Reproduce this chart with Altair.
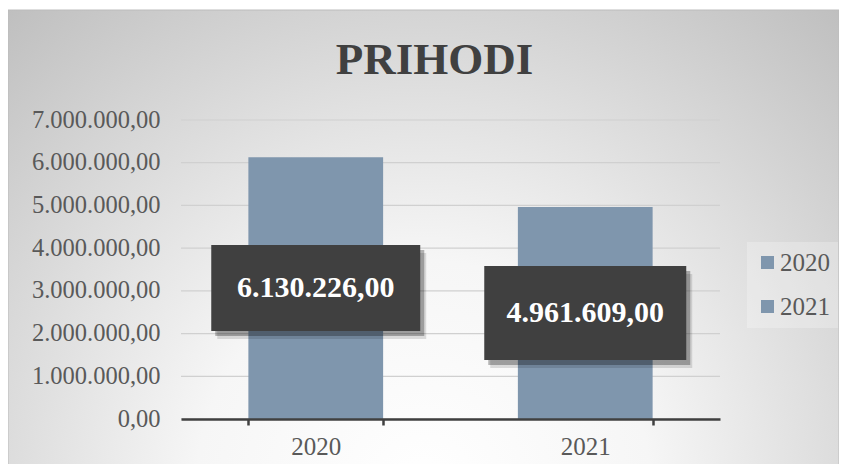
import altair as alt
import pandas as pd

# ---- data ----
years = ["2020", "2021"]
values = [6130226.00, 4961609.00]
y_ticks = [0, 1000000, 2000000, 3000000, 4000000, 5000000, 6000000, 7000000]

df = pd.DataFrame({"year": years, "value": values})
df_ticks = pd.DataFrame({"t": y_ticks})

BAR = "#7f96ad"
SERIF = "Liberation Serif"
W, H = 539, 299
PAD = {"left": 173, "top": 112, "right": 119, "bottom": 45}
BOX_PATHS = {"2020": "M-104.5,-43 h209 v86 h-209 Z",
             "2021": "M-101,-47 h202 v94 h-202 Z"}

base = alt.Chart(df)

x_enc = alt.X(
    "year:N",
    title=None,
    scale=alt.Scale(paddingInner=0.5, paddingOuter=0.25),
    axis=alt.Axis(
        labelAngle=0, labelFont=SERIF, labelFontSize=25, labelColor="#595959",
        domainColor="#404040", domainWidth=2.5, tickColor="#404040",
        tickWidth=2.5, tickSize=6, tickBand="extent", labelPadding=9, grid=False,
        zindex=2,
    ),
)
y_scale = alt.Scale(domain=[0, 7000000])

bg = alt.Chart(alt.Data(values=[{"a": 1}])).mark_rect(
    color=alt.RadialGradient(
        gradient="radial", x1=0.5, y1=0.8, r1=0, x2=0.5, y2=0.8, r2=0.78,
        stops=[alt.GradientStop(offset=0, color="#ffffff"),
               alt.GradientStop(offset=0.35, color="#f6f6f6"),
               alt.GradientStop(offset=1, color="#bdbdbd")],
    ),
    stroke="#bcbcbc", strokeWidth=1,
).encode(
    x=alt.value(-PAD["left"]), x2=alt.value(W + PAD["right"]),
    y=alt.value(-110), y2=alt.value(H + PAD["bottom"] + 2),
)

grid = alt.Chart(df_ticks).mark_rule(color="#d0d0d0", strokeWidth=1.2).encode(
    y=alt.Y("t:Q", scale=y_scale, title=None),
    x=alt.value(0), x2=alt.value(W),
)

bars = base.mark_bar().encode(
    x=x_enc,
    y=alt.Y("value:Q", title=None, scale=y_scale,
            axis=alt.Axis(values=y_ticks, format=",.2f", domain=False, ticks=False,
                          grid=False, labelFont=SERIF, zindex=2,
                          labelFontSize=24.5, labelColor="#595959", labelPadding=21)),
    color=alt.Color("year:N", title=None,
                    scale=alt.Scale(domain=years, range=[BAR, BAR]),
                    legend=alt.Legend(orient="none", legendX=566, legendY=122,
                                      symbolType="square", symbolSize=169,
                                      symbolStrokeWidth=0, labelFont=SERIF,
                                      labelFontSize=25, labelColor="#595959",
                                      labelOffset=0, rowPadding=18, padding=8,
                                      fillColor="rgba(255,255,255,0.25)")),
)

mid = base.transform_calculate(mid="datum.value / 2")
y_mid = alt.Y("mid:Q", scale=y_scale, title=None)

box_layers = []
for yr in years:
    sub = mid.transform_filter(alt.datum.year == yr)
    for fill, op, dx, dy in [("#000000", 0.12, 6, 8), ("#000000", 0.28, 4, 5),
                             ("#404040", 1.0, 0, 0)]:
        box_layers.append(
            sub.mark_point(filled=True, size=4, shape=BOX_PATHS[yr], fill=fill,
                           opacity=op, strokeWidth=0, xOffset=dx, yOffset=dy)
            .encode(x=x_enc, y=y_mid)
        )

labels = mid.mark_text(color="#ffffff", font=SERIF, fontSize=30,
                       fontWeight="bold", baseline="middle", align="center").encode(
    x=x_enc, y=y_mid,
    text=alt.Text("value:Q", format=",.2f"),
)

chart = alt.layer(bg, grid, bars, *box_layers, labels).properties(
    width=W, height=H,
    autosize=alt.AutoSizeParams(type="none"),
    padding=PAD,
    title=alt.TitleParams("PRIHODI", font=SERIF, fontSize=45, fontWeight="bold",
                          color="#404040", anchor="middle", frame="group",
                          dx=-16, offset=0, dy=109, baseline="alphabetic"),
).configure(
    locale={"number": {"decimal": ",", "thousands": ".", "grouping": [3],
                       "currency": ["", ""]}},
).configure_view(stroke=None)

chart.save("out.html", embed_options={"renderer": "svg", "actions": False})
